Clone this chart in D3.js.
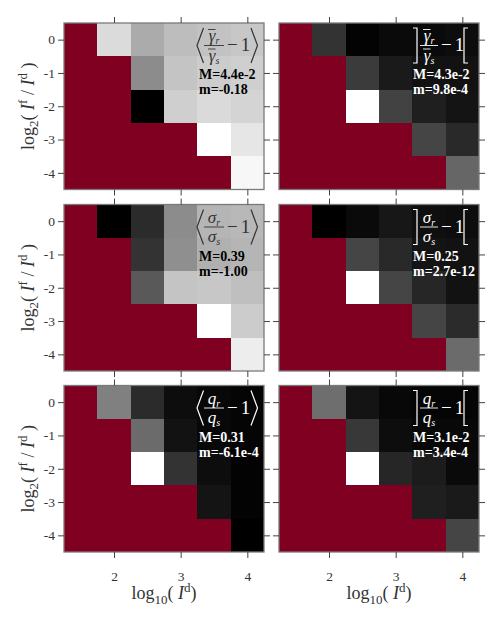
<!DOCTYPE html>
<html><head><meta charset="utf-8">
<script src="https://cdn.jsdelivr.net/npm/d3@7"></script>
<style>
body{margin:0;background:#fff}
svg{display:block}
</style>
</head><body>
<svg id="c" width="498" height="618" font-family="Liberation Serif, DejaVu Serif, serif"></svg>
<script>
// ---- data ----
const xCats = [1.5, 2, 2.5, 3, 3.5, 4];          // log10(I^d)
const yCats = [0, -1, -2, -3, -4];               // log2(I^f / I^d)
const xTicks = [2, 3, 4];
const yTicks = [0, -1, -2, -3, -4];
// normalized cell values per panel: 0 = panel minimum m (black), 1 = panel maximum M (white); null = no data
const gammaMean = [
  [null, 0.86, 0.67, 0.74, 0.76, 0.78],
  [null, null, 0.55, 0.77, 0.80, 0.81],
  [null, null, 0.00, 0.81, 0.855, 0.83],
  [null, null, null, null, 1.00, 0.90],
  [null, null, null, null, null, 0.97]
];
const gammaSpread = [
  [null, 0.20, 0.01, 0.04, 0.04, 0.05],
  [null, null, 0.23, 0.10, 0.07, 0.07],
  [null, null, 1.00, 0.26, 0.12, 0.08],
  [null, null, null, null, 0.27, 0.16],
  [null, null, null, null, null, 0.40]
];
const sigmaMean = [
  [null, 0.00, 0.17, 0.55, 0.71, 0.72],
  [null, null, 0.20, 0.56, 0.69, 0.71],
  [null, null, 0.35, 0.77, 0.78, 0.75],
  [null, null, null, null, 1.00, 0.80],
  [null, null, null, null, null, 0.93]
];
const sigmaSpread = [
  [null, 0.00, 0.04, 0.09, 0.06, 0.05],
  [null, null, 0.27, 0.16, 0.08, 0.07],
  [null, null, 1.00, 0.27, 0.15, 0.07],
  [null, null, null, null, 0.27, 0.17],
  [null, null, null, null, null, 0.42]
];
const qMean = [
  [null, 0.50, 0.17, 0.05, 0.03, 0.02],
  [null, null, 0.42, 0.07, 0.03, 0.02],
  [null, null, 1.00, 0.20, 0.05, 0.01],
  [null, null, null, null, 0.08, 0.01],
  [null, null, null, null, null, 0.00]
];
const qSpread = [
  [null, 0.43, 0.08, 0.03, 0.02, 0.02],
  [null, null, 0.22, 0.05, 0.03, 0.03],
  [null, null, 1.00, 0.15, 0.11, 0.04],
  [null, null, null, null, 0.12, 0.10],
  [null, null, null, null, null, 0.27]
];
const panelValues = [gammaMean, gammaSpread, sigmaMean, sigmaSpread, qMean, qSpread];
const panelSymbols = ["γ", "γ", "σ", "σ", "q", "q"];
const panelBars = [true, true, false, false, false, false];
const panelKinds = ["mean", "spread", "mean", "spread", "mean", "spread"];
const panelMax = ["4.4e-2", "4.3e-2", "0.39", "0.25", "0.31", "3.1e-2"];
const panelMin = ["-0.18", "9.8e-4", "-1.00", "2.7e-12", "-6.1e-4", "3.4e-4"];
const panelLight = [true, false, true, false, false, false];

// ---- layout ----
const SERIF = '"Liberation Serif", "DejaVu Serif", serif';
const colX = [64, 279];
const rowY = [23, 204.5, 385.5];
const W = 200, H = 166.5;
const NODATA = "#7f0021";

const svg = d3.select("#c");
const x = d3.scaleLinear().domain([1.25, 4.25]).range([0, W]);
const y = d3.scaleLinear().domain([0.5, -4.5]).range([0, H]);
const gray = d3.scaleLinear().domain([0, 1]).range(["#000000", "#ffffff"]);

function styleAxis(g){
  g.attr("font-family", SERIF).attr("font-size", 13);
  g.select(".domain").remove();
  g.selectAll(".tick line").attr("stroke", "#444").attr("stroke-width", 1);
  g.selectAll(".tick text").attr("fill", "#333").style("font-size", "13.5px").style("font-family", SERIF);
}
function T(sel){ return sel.append("text").style("font-family", SERIF); }

panelValues.forEach((vals, i) => {
  const c = i % 2, r = Math.floor(i / 2);
  const g = svg.append("g").attr("transform", `translate(${colX[c]},${rowY[r]})`);
  const cells = [];
  vals.forEach((row, ri) => row.forEach((v, ci) => cells.push({x: xCats[ci], y: yCats[ri], v})));
  g.selectAll("rect.cell").data(cells).join("rect").attr("class", "cell")
    .attr("x", d => x(d.x - 0.25)).attr("y", d => y(d.y + 0.5))
    .attr("width", d => x(d.x + 0.25) - x(d.x - 0.25))
    .attr("height", d => y(d.y - 0.5) - y(d.y + 0.5))
    .attr("fill", d => d.v === null ? NODATA : gray(d.v))
    .attr("shape-rendering", "crispEdges");
  g.append("rect").attr("x", 0).attr("y", 0).attr("width", W).attr("height", H)
    .attr("fill", "none").attr("stroke", "#7a7a7a").attr("stroke-width", 1.3);
  const fmt = d => String(d);
  const aL = g.append("g").call(d3.axisLeft(y).tickValues(yTicks).tickSize(6).tickPadding(3).tickFormat(c === 0 ? fmt : () => ""));
  const aR = g.append("g").attr("transform", `translate(${W},0)`).call(d3.axisRight(y).tickValues(yTicks).tickSize(6).tickFormat(() => ""));
  const aT = g.append("g").call(d3.axisTop(x).tickValues(xTicks).tickSize(6).tickFormat(() => ""));
  const aB = g.append("g").attr("transform", `translate(0,${H})`).call(d3.axisBottom(x).tickValues(xTicks).tickSize(6).tickPadding(13).tickFormat(r === 2 ? fmt : () => ""));
  [aL, aR, aT, aB].forEach(styleAxis);

  // annotation
  const light = panelLight[i];
  const mathCol = light ? "#333" : "#fff";
  const statCol = light ? "#000" : "#fff";
  const sym = panelSymbols[i];
  const isMean = panelKinds[i] === "mean";
  const x0 = isMean ? 133 : 134;
  const t = 0;
  const a = g.append("g").attr("fill", mathCol).attr("stroke", "none");
  const fL = 7, fR = isMean ? 27 : 25;
  const fc = (fL + fR) / 2;
  const lineY = t + 22.5;
  const bp = isMean
    ? [`M${x0+6.5},${t+5}L${x0},${lineY}L${x0+6.5},${t+40}`, `M${x0+54},${t+5}L${x0+60.5},${lineY}L${x0+54},${t+40}`]
    : [`M${x0},${t+5}H${x0+4}V${t+40}H${x0}`, `M${x0+55},${t+5}H${x0+51}V${t+40}H${x0+55}`];
  bp.forEach(p => a.append("path").attr("d", p).attr("fill", "none").attr("stroke", mathCol).attr("stroke-width", 1.2));
  a.append("path").attr("d", `M${x0+fL},${lineY}H${x0+fR}`).attr("stroke", mathCol).attr("stroke-width", 0.9);
  [["r", t + 18], ["s", t + 37.5]].forEach(([sub, by]) => {
    const tx = T(a).attr("x", x0 + fc).attr("y", by).attr("text-anchor", "middle");
    tx.append("tspan").text(sym).style("font-style", "italic").style("font-size", "17px");
    tx.append("tspan").text(sub).style("font-style", "italic").style("font-size", "10px").attr("dy", 3);
    if (panelBars[i]) {
      a.append("path").attr("d", `M${x0+fc-6},${by-11.5}H${x0+fc+1.5}`).attr("stroke", mathCol).attr("stroke-width", 0.9);
    }
  });
  const mo = T(a).attr("x", x0 + (isMean ? 30 : 28)).attr("y", lineY + 5.5).style("font-size", "19px");
  mo.append("tspan").text("−");
  mo.append("tspan").attr("dx", 3).text("1");
  const st = g.append("g").attr("fill", statCol);
  [["M=" + panelMax[i], 56], ["m=" + panelMin[i], 71]].forEach(([s, by]) => {
    T(st).attr("x", x0 + (isMean ? 2 : 0)).attr("y", t + by).text(s)
      .style("font-weight", "bold").style("font-size", "14px");
  });

  if (c === 0) {
    const yl = T(g).attr("transform", `translate(-30,${H/2}) rotate(-90)`)
      .attr("text-anchor", "middle").attr("fill", "#333").style("font-size", "18px");
    yl.append("tspan").text("log");
    yl.append("tspan").text("2").style("font-size", "13px").attr("dy", 4);
    yl.append("tspan").text("( ").attr("dy", -4);
    yl.append("tspan").text("I").style("font-style", "italic");
    yl.append("tspan").text("f").style("font-size", "13px").attr("dy", -7);
    yl.append("tspan").text(" / ").attr("dy", 7);
    yl.append("tspan").text("I").style("font-style", "italic");
    yl.append("tspan").text("d").style("font-size", "13px").attr("dy", -7);
    yl.append("tspan").text(" )").attr("dy", 7);
  }
  if (r === 2) {
    const xl = T(g).attr("x", W / 2).attr("y", H + 47)
      .attr("text-anchor", "middle").attr("fill", "#333").style("font-size", "18px");
    xl.append("tspan").text("log");
    xl.append("tspan").text("10").style("font-size", "13px").attr("dy", 5);
    xl.append("tspan").text("( ").attr("dy", -5);
    xl.append("tspan").text("I").style("font-style", "italic");
    xl.append("tspan").text("d").style("font-size", "13px").attr("dy", -7);
    xl.append("tspan").text(")").attr("dy", 7);
  }
});
</script>
</body></html>
